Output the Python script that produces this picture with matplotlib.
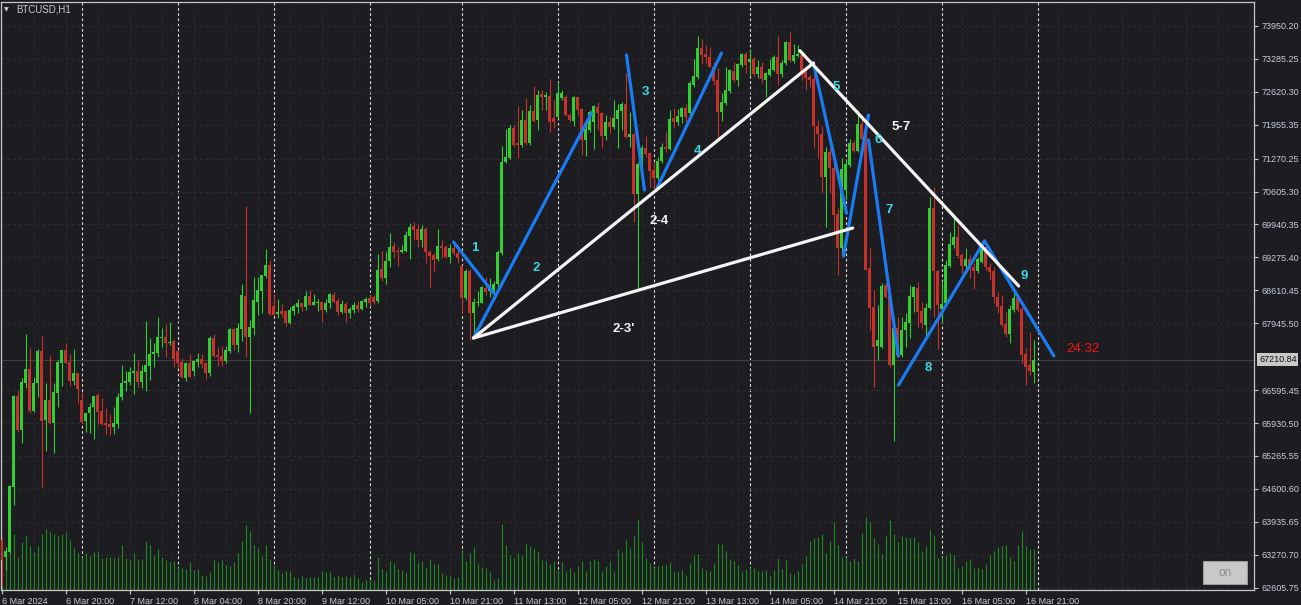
import matplotlib.pyplot as plt
from matplotlib.patches import Rectangle

plt.rcParams['font.family'] = ['Liberation Sans', 'DejaVu Sans']

W, H = 1301, 605
BG = '#1c1c21'
FG = '#c8cdd6'
BULL = '#32cd32'
BEAR = '#c4322a'
VOLC = '#1c8c1c'

# BTCUSD H1, 6 Mar 04:00 .. 16 Mar 23:00 (broker time, one hour skipped on 10 Mar)
opens = [
    63567, 63230, 63331, 64644, 66476, 65795, 66744, 67021, 66179, 66738,
    67385, 65991, 66395, 65937, 66543, 67148, 67405, 67163, 66785, 66940,
    66395, 65977, 66132, 66254, 66496, 66173, 65937, 65910, 65856, 65910,
    66450, 66738, 66765, 66947, 66981, 66765, 66967, 67088, 67318, 67350,
    67654, 67668, 67540, 67587, 67385, 67163, 66833, 67148, 66987, 67169,
    67223, 67148, 66947, 67654, 67304, 67290, 67183, 67391, 67829, 67506,
    67829, 68496, 67674, 67855, 68381, 68603, 68900, 69122, 68294, 68132,
    68193, 68193, 67944, 68199, 68280, 68361, 68280, 68496, 68314, 68361,
    68381, 68213, 68361, 68516, 68395, 68179, 68334, 68146, 68213, 68314,
    68227, 68381, 68455, 68482, 68395, 69035, 68853, 69209, 69506, 69411,
    69391, 69411, 69714, 69910, 69843, 69627, 69843, 69391, 69324, 69237,
    69506, 69492, 69290, 69472, 69370, 69102, 68449, 69007, 68146, 68361,
    68361, 68651, 68603, 68583, 68738, 69370, 71209, 71277, 71895, 71580,
    71546, 72051, 71580, 72233, 72051, 72576, 72522, 72536, 72085, 72118,
    72489, 72509, 72152, 72037, 72509, 72267, 71647, 71849, 72017, 72320,
    72186, 71728, 72017, 71904, 72065, 72239, 72374, 71714, 71768, 70556,
    71142, 71479, 71391, 71041, 70873, 71223, 71512, 71459, 72085, 72017,
    72118, 72287, 72186, 72758, 72926, 73499, 73384, 73318, 73128, 72859,
    72219, 72400, 72643, 73047, 72859, 73162, 73384, 73229, 73277, 72980,
    73128, 72859, 72960, 73061, 73318, 72980, 73196, 73633, 73249, 73344,
    73364, 73027, 72926, 72873, 71930, 71768, 70894, 71411, 71075, 70152,
    69459, 70637, 71142, 71592, 71431, 71970, 71661, 69055, 68280, 67486,
    67472, 68718, 68496, 67102, 67843, 67304, 67809, 67957, 68482, 68651,
    68199, 67910, 68247, 70267, 69007, 68227, 68348, 69108, 69526, 69694,
    69324, 69102, 69237, 69075, 69007, 69189, 69492, 69075, 69007, 68482,
    68294, 67930, 67728, 68213, 68449, 68227, 67324, 67102, 66967,
]
highs = [
    63608, 63432, 64678, 66496, 66597, 66833, 67728, 67445, 66860, 67425,
    67688, 66738, 67304, 66738, 67203, 67405, 67552, 67324, 67425, 66940,
    66557, 66132, 66334, 66476, 66536, 66435, 66233, 66112, 66254, 66536,
    67102, 66987, 67068, 67350, 67203, 67102, 67991, 67647, 67552, 68078,
    67849, 67930, 67971, 67627, 67405, 67243, 67169, 67324, 67203, 67338,
    67324, 67169, 67688, 67728, 67472, 67486, 67486, 67855, 67855, 67944,
    68738, 70314, 68011, 68874, 68874, 68920, 69439, 69223, 68516, 68435,
    68334, 68213, 68280, 68334, 68435, 68361, 68597, 68617, 68536, 68435,
    68381, 68429, 68562, 68570, 68449, 68415, 68381, 68280, 68381, 68401,
    68415, 68482, 68510, 68510, 69344, 69411, 69391, 69762, 69593, 69492,
    69526, 69815, 69977, 69997, 69950, 69930, 69896, 69425, 69370, 69843,
    69627, 69526, 69546, 69560, 69459, 69122, 69035, 69035, 68449, 68603,
    68698, 68886, 68853, 68805, 69425, 71526, 71863, 71950, 71950, 72334,
    72253, 72489, 72354, 72738, 72657, 72657, 72623, 72873, 72455, 72825,
    72657, 72556, 72186, 72536, 72522, 72287, 72051, 72253, 72354, 72421,
    72219, 72152, 72106, 72455, 72374, 72421, 72994, 72219, 71782, 71209,
    71546, 71728, 71411, 71209, 71310, 71592, 71815, 72253, 72293, 72267,
    72307, 72374, 72845, 73277, 73748, 73681, 73566, 73532, 73229, 73095,
    72590, 73128, 73075, 73229, 73209, 73410, 73431, 73479, 73317, 73263,
    73229, 73027, 73277, 73364, 73748, 73263, 73653, 73835, 73586, 73566,
    73451, 73075, 72960, 73061, 72051, 71930, 71512, 71512, 71176, 70267,
    71277, 71243, 71661, 71647, 72253, 72132, 72051, 69459, 68617, 68314,
    68758, 68764, 68516, 68078, 68066, 68078, 68146, 68718, 68698, 68785,
    68381, 68348, 70502, 70692, 69021, 68785, 69223, 69795, 70065, 69930,
    69370, 69459, 69324, 69156, 69290, 69526, 69593, 69156, 69075, 68583,
    68516, 68179, 68314, 68562, 68516, 68280, 67439, 67775, 67607,
]
lows = [
    62638, 62961, 63304, 64280, 65755, 65532, 66637, 66132, 66159, 66456,
    64644, 65371, 65910, 65330, 66260, 66678, 67122, 66678, 66698, 66334,
    65930, 65755, 65735, 65607, 65910, 65890, 65708, 65688, 65708, 65836,
    66395, 66583, 66698, 66516, 66658, 66637, 66583, 66799, 67068, 67270,
    67472, 67270, 67506, 67068, 67041, 66833, 66785, 66866, 66880, 67068,
    67035, 66819, 66886, 67270, 67088, 67088, 67136, 67338, 67405, 67358,
    67593, 67270, 66126, 67708, 68112, 68159, 68853, 68112, 68112, 68045,
    68065, 67896, 67930, 68112, 68159, 68199, 68213, 68314, 68314, 68199,
    67977, 68179, 68247, 68348, 68112, 68159, 67977, 68045, 68146, 68179,
    68213, 68267, 68294, 68334, 68361, 68805, 68738, 69088, 69257, 69102,
    69358, 69391, 69237, 69627, 69479, 69479, 69156, 68671, 69007, 69209,
    69257, 69263, 69156, 69324, 69156, 68146, 68415, 67607, 67641, 68294,
    68348, 68516, 68482, 68482, 68684, 69324, 71176, 71257, 71512, 71277,
    71512, 71546, 71546, 72017, 71849, 72253, 72253, 71815, 71883, 72085,
    72455, 72132, 72017, 71930, 72152, 71344, 71324, 71815, 71459, 71849,
    71479, 71647, 71794, 71863, 71479, 71849, 71681, 71512, 69997, 68617,
    71041, 71310, 70704, 70704, 70839, 71188, 71411, 71445, 71916, 71950,
    71984, 72017, 72152, 72724, 72873, 73182, 73196, 73116, 72758, 71681,
    72037, 72354, 72602, 72825, 72738, 73128, 72994, 72940, 72940, 72893,
    72792, 72522, 72940, 73047, 72758, 72914, 73162, 73229, 73209, 73330,
    72859, 72657, 72724, 71479, 71277, 70570, 69896, 70570, 69762, 68920,
    69324, 70435, 71108, 71411, 71411, 71647, 69021, 67809, 66663, 67203,
    67445, 68449, 67068, 65573, 67270, 67270, 67472, 67641, 68179, 67876,
    67843, 67641, 68227, 68078, 67419, 67944, 68314, 69088, 69459, 69257,
    68954, 68987, 68853, 68631, 68954, 69156, 69021, 68819, 68348, 68146,
    67876, 67674, 67540, 68179, 68179, 67149, 66698, 66900, 66744,
]
closes = [
    63163, 63351, 64658, 66476, 65795, 66752, 67021, 66179, 66738, 67385,
    65977, 66395, 65937, 66557, 67163, 67405, 67148, 66785, 66940, 66617,
    65957, 66132, 66254, 66476, 66159, 65910, 65890, 65856, 65937, 66456,
    66738, 66779, 66961, 66981, 66765, 66981, 67102, 67324, 67371, 67668,
    67668, 67553, 67567, 67229, 67148, 66854, 67148, 66866, 67183, 67223,
    67122, 66947, 67654, 67284, 67270, 67183, 67405, 67829, 67506, 67855,
    68516, 67661, 67870, 68415, 68617, 68920, 69122, 68132, 68112, 68179,
    68132, 67957, 68213, 68294, 68361, 68280, 68496, 68314, 68381, 68381,
    68213, 68348, 68536, 68381, 68179, 68334, 68146, 68227, 68314, 68227,
    68401, 68435, 68348, 68381, 69021, 68853, 69209, 69492, 69391, 69391,
    69425, 69728, 69884, 69829, 69627, 69843, 69391, 69304, 69223, 69506,
    69459, 69290, 69472, 69358, 69269, 68449, 69007, 68146, 68381, 68381,
    68671, 68583, 68651, 68738, 69391, 71209, 71298, 71895, 71546, 71546,
    72051, 71580, 72233, 72037, 72556, 72522, 72556, 72017, 72017, 72602,
    72602, 72152, 72051, 72509, 72253, 71647, 71863, 72219, 72334, 72186,
    71728, 72017, 71904, 72085, 72253, 72374, 71714, 71768, 70556, 71162,
    71479, 71364, 71027, 70873, 71223, 71500, 71459, 72065, 72017, 72132,
    72287, 72118, 72792, 72940, 73499, 73364, 73318, 73128, 72839, 72219,
    72421, 72657, 73061, 72859, 73182, 73384, 73162, 73277, 72980, 73128,
    72873, 72994, 73075, 73318, 72980, 73209, 73633, 73263, 73364, 73384,
    72994, 72893, 72859, 71930, 71768, 70894, 71411, 71075, 70132, 69459,
    71055, 71162, 71592, 71431, 71970, 71661, 69021, 68247, 67472, 67607,
    68698, 68482, 67102, 67843, 67304, 67809, 67977, 68496, 68671, 68179,
    67944, 68247, 70267, 69007, 68314, 68334, 69122, 69546, 69694, 69304,
    69102, 69237, 69021, 69007, 69237, 69459, 69075, 68987, 68469, 68280,
    67910, 67728, 68227, 68449, 68213, 67304, 67068, 66971, 67210.84,
]
volumes = [
    38, 39, 40, 55, 33, 47, 53, 43, 38, 43,
    55, 60, 57, 55, 53, 55, 57, 49, 41, 37,
    33, 37, 34, 38, 39, 32, 33, 33, 32, 33,
    44, 32, 30, 37, 30, 31, 48, 44, 35, 40,
    33, 30, 28, 29, 23, 22, 21, 28, 20, 21,
    15, 14, 18, 30, 28, 30, 25, 24, 28, 37,
    48, 64, 58, 44, 41, 34, 44, 31, 25, 20,
    17, 19, 19, 13, 12, 14, 12, 13, 13, 13,
    19, 18, 18, 13, 15, 13, 14, 13, 16, 12,
    8, 10, 11, 10, 33, 21, 19, 29, 27, 21,
    20, 18, 38, 37, 28, 29, 22, 31, 26, 26,
    17, 15, 15, 12, 13, 39, 29, 37, 42, 27,
    23, 22, 18, 10, 12, 65, 44, 35, 32, 37,
    35, 45, 43, 41, 39, 30, 29, 26, 29, 20,
    28, 19, 22, 18, 24, 29, 19, 29, 31, 29,
    19, 24, 29, 19, 40, 38, 49, 41, 53, 70,
    47, 32, 27, 23, 24, 25, 26, 28, 18, 19,
    20, 15, 27, 35, 36, 22, 20, 19, 27, 45,
    45, 39, 31, 29, 25, 19, 21, 23, 22, 19,
    19, 20, 14, 20, 32, 21, 30, 17, 16, 19,
    26, 34, 48, 51, 52, 55, 37, 48, 67, 44,
    33, 33, 29, 32, 29, 56, 72, 67, 51, 45,
    36, 53, 69, 55, 47, 53, 52, 51, 52, 47,
    39, 43, 59, 54, 32, 33, 35, 37, 35, 22,
    24, 29, 31, 22, 23, 21, 26, 35, 39, 42,
    43, 44, 33, 29, 44, 58, 43, 40, 40,
]

# bars where a new day starts (period separators)
day_starts = [20, 44, 68, 92, 115, 139, 163, 187, 211, 235, 259]

time_labels = [
    '6 Mar 2024', '6 Mar 20:00', '7 Mar 12:00', '8 Mar 04:00', '8 Mar 20:00',
    '9 Mar 12:00', '10 Mar 05:00', '10 Mar 21:00', '11 Mar 13:00', '12 Mar 05:00',
    '12 Mar 21:00', '13 Mar 13:00', '14 Mar 05:00', '14 Mar 21:00', '15 Mar 13:00',
    '16 Mar 05:00', '16 Mar 21:00',
]
price_labels = [
    '73950.20', '73285.25', '72620.30', '71955.35', '71270.25', '70605.30',
    '69940.35', '69275.40', '68610.45', '67945.50', '66595.45', '65930.50',
    '65265.55', '64600.60', '63935.65', '63270.70', '62605.75',
]

# hand-drawn wave lines: (bar, price) -> (bar, price)
blue_lines = [
    ((113, 69587), (123, 68556)),
    ((118, 67647), (147.5, 72192)),
    ((156.25, 73364), (160.75, 70637)),
    ((164, 70698), (180, 73404)),
    ((203, 73203), (211.25, 70172)),
    ((210.5, 69304), (216.75, 72152)),
    ((216.75, 71647), (224.2, 67284)),
    ((224.25, 66698), (245.75, 69607)),
    ((245.75, 69607), (263.1, 67284)),
]
white_lines = [
    ((118, 67647), (203, 73203)),
    ((118, 67647), (212.8, 69869)),
    ((199.6, 73451), (254.3, 68698)),
]
wave_labels = [
    ('1', 118.25, 69465), ('2', 133.75, 69061), ('3', 161, 72617),
    ('4', 174, 71425), ('5', 208.75, 72718), ('6', 219.25, 71647),
    ('7', 222, 70233), ('8', 231.75, 67041), ('9', 255.75, 68900),
]
pattern_labels = [('2-4', 164.5, 70011), ("2-3'", 155.5, 67829), ('5-7', 225, 71910)]


fig = plt.figure(figsize=(W / 100, H / 100), dpi=100, facecolor=BG)
ax = fig.add_axes([0.5 / W, 15 / H, 1253 / W, 588 / H], facecolor=BG)

n = len(closes)
bars = list(range(n))
colors = [BULL if c >= o else BEAR for o, c in zip(opens, closes)]
hi = [max(h, o, c) for h, o, c in zip(highs, opens, closes)]
lo = [min(l, o, c) for l, o, c in zip(lows, opens, closes)]

# volumes, scaled into the bottom strip of the window
vmax = max(volumes)
ax.vlines(bars, 0, [v / vmax * 0.124 for v in volumes], colors=VOLC,
          lw=0.8, transform=ax.get_xaxis_transform(), zorder=2)

# period separators
for d in day_starts:
    ax.axvline(d, color='#dcdcdc', lw=0.8, ls=(0, (2.5, 2.2)), zorder=1)

# bid line
ax.axhline(closes[-1], color='#3e3e44', lw=0.8, zorder=1.5)

# candles
ax.vlines(bars, lo, hi, colors=colors, lw=0.8, zorder=3)
bottoms = [min(o, c) for o, c in zip(opens, closes)]
heights = [max(abs(c - o), 20) for o, c in zip(opens, closes)]
ax.bar(bars, heights, bottom=bottoms, width=0.75, color=colors, linewidth=0, zorder=4)

for (x0, y0), (x1, y1) in blue_lines:
    ax.plot([x0, x1], [y0, y1], color='#1a7cf5', lw=2.3, solid_capstyle='round', zorder=5)
for (x0, y0), (x1, y1) in white_lines:
    ax.plot([x0, x1], [y0, y1], color='#f4f4f4', lw=2.3, solid_capstyle='round', zorder=5)
for t, x, y in wave_labels:
    ax.text(x, y, t, color='#3ad6e4', fontsize=9.5, fontweight='bold',
            ha='center', va='center', zorder=6)
for t, x, y in pattern_labels:
    ax.text(x, y, t, color='#f4f4f4', fontsize=9.5, fontweight='bold',
            ha='center', va='center', zorder=6)

ax.text(270.25, 67425, '24:32', color='#f01818', fontsize=9.5, ha='center', va='center', zorder=6)

ax.set_xlim(-0.25, 313)
ax.set_ylim(62557, 74435)

ax.set_xticks(list(range(0, n, 16)), time_labels)
ax.set_xticks(list(range(0, 313, 8)), minor=True)
for lbl in ax.get_xticklabels():
    lbl.set_horizontalalignment('left')
ax.set_yticks([float(p) for p in price_labels], price_labels)
ax.yaxis.tick_right()

ax.tick_params(axis='both', which='major', colors='#c8c8c8', labelcolor=FG,
               labelsize=6.5, length=3, width=0.8)
ax.tick_params(axis='y', pad=2.5)
ax.tick_params(axis='x', pad=2)
ax.tick_params(which='minor', length=0)
ax.grid(axis='y', color='#2e2e34', lw=0.7, ls=(0, (3, 3)), zorder=0.5)
ax.grid(axis='x', which='both', color='#2e2e34', lw=0.7, ls=(0, (3, 3)), zorder=0.5)

for s in ax.spines.values():
    s.set_color('#c8c8c8')
    s.set_linewidth(0.9)

ax.annotate(f'{closes[-1]:.2f}', xy=(1, closes[-1]), xycoords=('axes fraction', 'data'),
            xytext=(4, 0), textcoords='offset points', ha='left', va='center',
            fontsize=6.5, color='#141414', annotation_clip=False,
            bbox=dict(boxstyle='square,pad=0.2', fc='#c8c8c8', ec='none'))

fig.text(4 / W, 1 - 10 / H, '▼', fontsize=4.5, color=FG, va='center', family='DejaVu Sans')
fig.text(16 / W, 1 - 10 / H, 'BTCUSD,H1', fontsize=7, color=FG, va='center')

fig.patches.append(Rectangle((1203 / W, 21 / H), 44 / W, 23 / H, transform=fig.transFigure,
                             fc='#c8c8c8', ec='#9c9c9c', lw=0.8))
fig.text(1225 / W, 32.5 / H, 'on', fontsize=8.5, color='#8c8c8c', ha='center', va='center')

fig.savefig('out.png', dpi=100, facecolor=BG)
